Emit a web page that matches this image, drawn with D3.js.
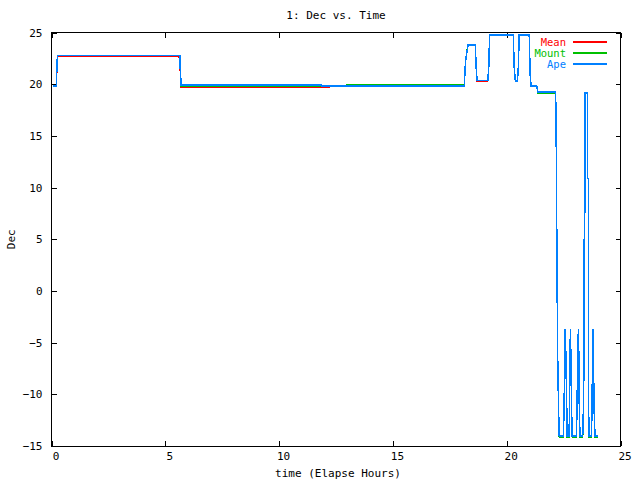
<!DOCTYPE html>
<html>
<head>
<meta charset="utf-8">
<script src="https://cdn.jsdelivr.net/npm/d3@7"></script>
<style>
  body { margin: 0; background: #fff; }
  svg { display: block; }
  text { font-family: "DejaVu Sans Mono", monospace; font-size: 11px; fill: #000; }
</style>
</head>
<body>
<svg id="chart" width="640" height="480"></svg>
<script>
// elapsed hours of each sample
const times = [0.066, 0.22, 0.24, 0.27, 5.61, 5.64, 5.66, 5.70, 11.84, 11.85,
  12.19, 12.20, 12.98, 12.99, 18.14, 18.17, 18.21, 18.30, 18.62, 18.66,
  18.70, 19.17, 19.21, 19.25, 20.29, 20.33, 20.38, 20.47, 20.51, 20.55,
  20.99, 21.03, 21.07, 21.32, 21.35, 21.38, 22.15, 22.18, 22.21, 22.24,
  22.28, 22.31, 22.49, 22.52, 22.55, 22.57, 22.60, 22.64, 22.66, 22.74,
  22.76, 22.78, 22.80, 22.82, 22.85, 22.88, 23.06, 23.09, 23.12, 23.15,
  23.17, 23.19, 23.22, 23.34, 23.37, 23.40, 23.41, 23.45, 23.45, 23.54,
  23.54, 23.59, 23.59, 23.60, 23.62, 23.72, 23.75, 23.77, 23.79, 23.81,
  23.84, 23.88, 24.00];

const meanDec = [19.83, 19.83, 22.05, 22.71, 22.71, 21.31, 21.31, 19.73, 19.73, 19.73,
  19.73, 19.83, 19.83, 19.83, 19.83, 21.60, 22.50, 23.80, 23.80, 21.60,
  20.33, 20.33, 21.60, 24.77, 24.77, 21.60, 20.31, 20.31, 21.60, 24.77,
  24.77, 20.96, 19.83, 19.83, 19.44, 19.14, 19.14, 13.47, 2.02, -6.31,
  -11.47, -14.05, -14.05, -11.47, -6.31, -3.72, -6.31, -11.47, -14.05, -14.05,
  -11.47, -6.31, -3.72, -6.31, -11.47, -14.05, -14.05, -11.47, -6.31, -3.72,
  -6.31, -11.47, -14.05, -14.05, -11.47, -6.31, 7.66, 7.66, 19.18, 19.18,
  10.90, 10.90, -5.73, -11.47, -14.05, -14.05, -11.47, -6.31, -3.72, -6.31,
  -11.47, -14.05, -14.05];

const mountDec = [19.83, 19.83, 22.10, 22.80, 22.80, 22.80, 21.31, 19.83, 19.83, 19.83,
  19.83, 19.83, 19.83, 19.95, 19.95, 21.60, 22.50, 23.86, 23.86, 21.60,
  20.38, 20.38, 21.60, 24.83, 24.83, 21.60, 20.31, 20.31, 21.60, 24.83,
  24.83, 20.96, 19.83, 19.83, 19.44, 19.14, 19.14, 13.47, 2.02, -6.31,
  -11.47, -14.12, -14.12, -11.47, -6.31, -3.72, -6.31, -11.47, -14.12, -14.12,
  -11.47, -6.31, -3.72, -6.31, -11.47, -14.12, -14.12, -11.47, -6.31, -3.72,
  -6.31, -11.47, -14.12, -14.12, -11.47, -6.31, 7.66, 7.66, 19.18, 19.18,
  10.90, 10.90, -6.31, -11.47, -14.12, -14.12, -11.47, -6.31, -3.72, -6.31,
  -11.47, -14.12, -14.12];

const apeDec = [19.83, 19.83, 22.10, 22.80, 22.80, 22.80, 21.31, 19.93, 19.93, 19.83,
  19.83, 19.83, 19.83, 19.83, 19.83, 21.60, 22.50, 23.80, 23.80, 21.60,
  20.38, 20.38, 21.60, 24.77, 24.77, 21.60, 20.31, 20.31, 21.60, 24.77,
  24.77, 20.96, 19.83, 19.83, 19.44, 19.24, 19.24, 13.47, 2.02, -6.31,
  -11.47, -14.05, -14.05, -11.47, -6.31, -3.72, -6.31, -11.47, -14.05, -14.05,
  -11.47, -6.31, -3.72, -6.31, -11.47, -14.05, -14.05, -11.47, -6.31, -3.72,
  -6.31, -11.47, -14.05, -14.05, -11.47, -6.31, 7.66, 7.66, 19.18, 19.18,
  10.90, 10.90, -6.31, -11.47, -14.05, -14.05, -11.47, -6.31, -3.72, -6.31,
  -11.47, -14.05, -14.05];

const xTicks = [0, 5, 10, 15, 20, 25];
const yTicks = [-15, -10, -5, 0, 5, 10, 15, 20, 25];

const series = [
  { name: 'Mean', values: meanDec, color: '#ff0000' },
  { name: 'Mount', values: mountDec, color: '#00c000' },
  { name: 'Ape', values: apeDec, color: '#0080ff' }
];

const svg = d3.select('#chart');
const plotLeft = 51.5, plotRight = 620.5, plotTop = 32.6, plotBottom = 446;

const x = d3.scaleLinear().domain([0, 25]).range([plotLeft, plotRight]);
const y = d3.scaleLinear().domain([-15, 25]).range([plotBottom, plotTop]);

// ticks, mirrored on all four sides, pointing inwards
function styleAxis(g) {
  g.select('.domain').remove();
  g.selectAll('.tick line').attr('stroke', '#000').attr('shape-rendering', 'crispEdges');
  g.selectAll('.tick text').attr('font-family', '"DejaVu Sans Mono", monospace').attr('font-size', 11);
}

svg.append('g')
  .attr('transform', `translate(0,${plotBottom})`)
  .call(d3.axisBottom(x).tickValues(xTicks).tickSizeInner(-5).tickSizeOuter(0).tickPadding(6))
  .call(styleAxis)
  .selectAll('.tick text').attr('dx', 4);

svg.append('g')
  .attr('transform', `translate(0,${plotTop})`)
  .call(d3.axisTop(x).tickValues(xTicks).tickSizeInner(-5).tickSizeOuter(0).tickFormat(''))
  .call(styleAxis);

svg.append('g')
  .attr('transform', `translate(${plotLeft},0)`)
  .call(d3.axisLeft(y).tickValues(yTicks).tickSizeInner(-5).tickSizeOuter(0).tickPadding(9))
  .call(styleAxis);

svg.append('g')
  .attr('transform', `translate(${plotRight},0)`)
  .call(d3.axisRight(y).tickValues(yTicks).tickSizeInner(-5).tickSizeOuter(0).tickFormat(''))
  .call(styleAxis);

svg.append('rect')
  .attr('x', plotLeft).attr('y', plotTop)
  .attr('width', plotRight - plotLeft).attr('height', plotBottom - plotTop)
  .attr('fill', 'none').attr('stroke', '#000')
  .attr('shape-rendering', 'crispEdges');

const line = d3.line()
  .x(function (d, i) { return x(times[i]); })
  .y(function (d) { return y(d); });

svg.append('g').selectAll('path')
  .data(series)
  .join('path')
  .attr('d', function (s) { return line(s.values); })
  .attr('fill', 'none')
  .attr('stroke', function (s) { return s.color; })
  .attr('stroke-width', 1.5)
  .attr('shape-rendering', 'crispEdges');

// legend, top right inside the frame
const legend = svg.append('g').selectAll('g')
  .data(series)
  .join('g')
  .attr('transform', function (s, i) { return `translate(566,${42 + i * 11})`; });

legend.append('text')
  .attr('text-anchor', 'end')
  .attr('dy', '0.35em')
  .style('font-size', '10.5px')
  .style('fill', function (s) { return s.color; })
  .text(function (s) { return s.name; });

legend.append('line')
  .attr('x1', 7).attr('x2', 41)
  .attr('stroke', function (s) { return s.color; })
  .attr('stroke-width', 1.5)
  .attr('shape-rendering', 'crispEdges');

svg.append('text')
  .attr('x', (plotLeft + plotRight) / 2).attr('y', 15)
  .attr('text-anchor', 'middle').attr('dy', '0.35em')
  .text('1: Dec vs. Time');

svg.append('text')
  .attr('x', (plotLeft + plotRight) / 2 + 2).attr('y', 473)
  .attr('text-anchor', 'middle').attr('dy', '0.35em')
  .text('time (Elapse Hours)');

svg.append('text')
  .attr('transform', `translate(11,${(plotTop + plotBottom) / 2}) rotate(-90)`)
  .attr('text-anchor', 'middle').attr('dy', '0.35em')
  .text('Dec');
</script>
</body>
</html>
